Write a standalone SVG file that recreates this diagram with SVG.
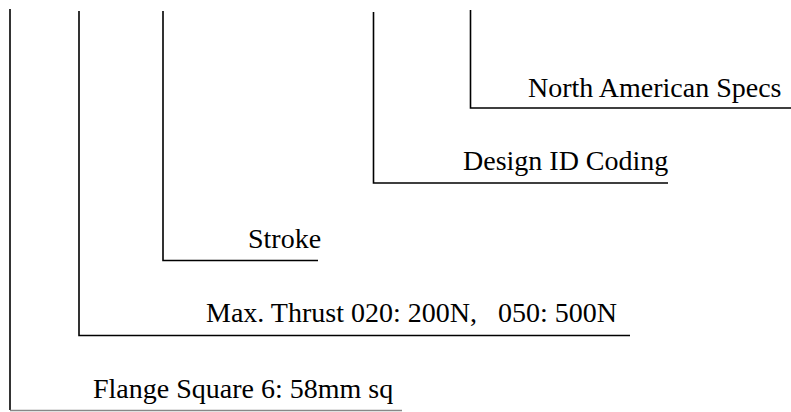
<svg xmlns="http://www.w3.org/2000/svg" width="791" height="412" viewBox="0 0 791 412">
<style>
.ln{fill:none;stroke:#000;stroke-width:1.6}
.lt{fill:none;stroke:#888;stroke-width:1.4}
.t{font-family:"Liberation Serif","Times New Roman",serif;font-size:28px;fill:#000}
</style>
<rect width="791" height="412" fill="#fff"/>
<g id="connectors">
<path class="ln" d="M10,9 V410"/>
<path class="lt" d="M10,410.5 H402"/>
<path class="ln" d="M79,11 V335.5 H630"/>
<path class="ln" d="M163,11 V260.5 H318"/>
<path class="ln" d="M373.5,12 V183 H668"/>
<path class="ln" d="M470.5,10 V108 H791"/>
</g>
<g id="flange"><text class="t" x="93" y="398">Flange Square 6: 58mm sq</text></g>
<g id="thrust"><text class="t" x="206" y="322" xml:space="preserve">Max. Thrust 020: 200N,   050: 500N</text></g>
<g id="stroke"><text class="t" x="248" y="248">Stroke</text></g>
<g id="design"><text class="t" x="463" y="170">Design ID Coding</text></g>
<g id="specs"><text class="t" x="528" y="97">North American Specs</text></g>
</svg>
